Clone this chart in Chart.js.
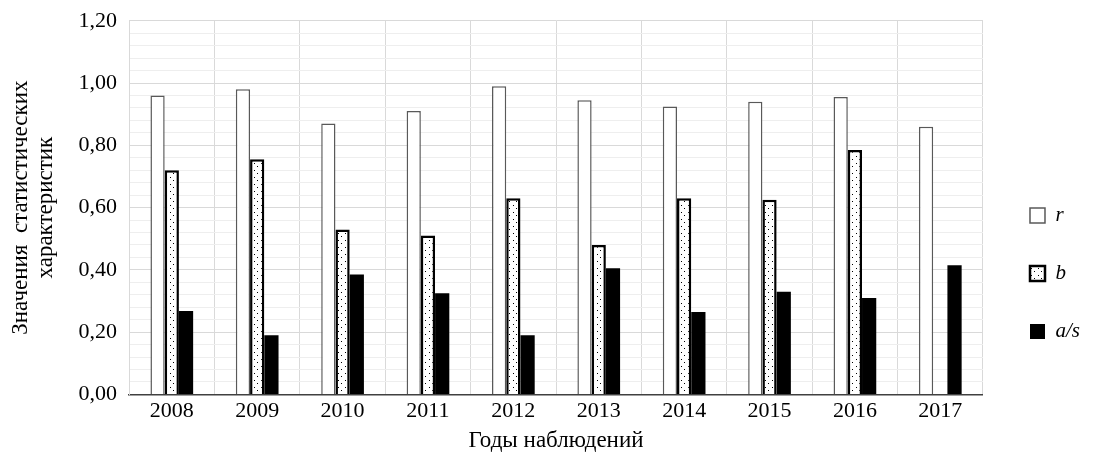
<!DOCTYPE html>
<html lang="ru">
<head>
  <meta charset="UTF-8">
  <title>Статистические характеристики</title>
  <script src="https://cdn.jsdelivr.net/npm/chart.js"></script>
  <style>
    body { margin: 0; background: #fff; }
    .wrap { width: 1096px; height: 453px; }
  </style>
</head>
<body>
  <div class="wrap"><canvas id="chart"></canvas></div>

  <script>
    // данные по годам
    const years = ["2008", "2009", "2010", "2011", "2012", "2013", "2014", "2015", "2016", "2017"];
    const rValues = [0.96, 0.98, 0.87, 0.91, 0.99, 0.945, 0.925, 0.94, 0.955, 0.86];
    const bValues = [0.72, 0.755, 0.53, 0.51, 0.63, 0.48, 0.63, 0.625, 0.785, null];
    const asValues = [0.268, 0.19, 0.385, 0.325, 0.19, 0.405, 0.265, 0.33, 0.31, 0.415];
    const seriesNames = ["r", "b", "a/s"];

    // точечная заливка для b
    const pc = document.createElement("canvas");
    pc.width = 7; pc.height = 7;
    const px = pc.getContext("2d");
    px.fillStyle = "#fff";
    px.fillRect(0, 0, 7, 7);
    px.fillStyle = "#000";
    px.fillRect(2, 2, 1, 1);
    px.fillRect(5, 5, 1, 1);
    const dots = px.createPattern(pc, "repeat");

    const serif = "'Liberation Serif', 'DejaVu Serif', serif";
    const tickFont = { family: serif, size: 22, lineHeight: 0.8 };
    const xTitleFont = { family: serif, size: 23, lineHeight: 1.0 };
    const yTitleFont = { family: serif, size: 23, lineHeight: 1.1 };

    const isMajor = v => Math.round(v * 100) % 20 === 0;

    // сдвиг легенды после раскладки
    const legendShift = {
      id: "legendShift",
      afterLayout(chart) {
        const lg = chart.legend;
        lg.left += 10; lg.right += 10;
        lg.top += 46; lg.bottom += 46;
      }
    };

    new Chart(document.getElementById("chart"), {
      type: "bar",
      data: {
        labels: years,
        datasets: [
          { label: seriesNames[0], data: rValues, backgroundColor: "#fff", borderColor: "#595959", borderWidth: 1.5 },
          { label: seriesNames[1], data: bValues, backgroundColor: dots, borderColor: "#000", borderWidth: 2.5 },
          { label: seriesNames[2], data: asValues, backgroundColor: "#000", borderColor: "#000", borderWidth: 0 }
        ]
      },
      plugins: [legendShift],
      options: {
        responsive: true,
        maintainAspectRatio: false,
        animation: false,
        layout: { padding: { top: 3, right: 16, left: 4, bottom: 1 } },
        datasets: { bar: { categoryPercentage: 0.5, barPercentage: 1 } },
        plugins: {
          tooltip: { enabled: false },
          legend: {
            position: "right",
            labels: {
              font: { family: serif, size: 21, style: "italic" },
              color: "#000",
              boxWidth: 15,
              boxHeight: 15,
              padding: 37
            }
          }
        },
        scales: {
          x: {
            grid: { offset: true, color: "#d9d9d9", drawTicks: false },
            border: { color: "#404040", width: 1.5 },
            ticks: { font: tickFont, color: "#000", padding: 8 },
            title: { display: true, text: "Годы наблюдений", font: xTitleFont, color: "#000", padding: { top: 1, bottom: 0 } }
          },
          y: {
            min: 0,
            max: 1.2,
            grid: {
              color: ctx => isMajor(ctx.tick.value) ? "#d9d9d9" : "#eeeeee",
              drawTicks: false
            },
            border: { color: "#d9d9d9" },
            ticks: {
              stepSize: 0.04,
              autoSkip: false,
              font: tickFont,
              color: "#000",
              padding: 12,
              callback: v => isMajor(v) ? v.toFixed(2).replace(".", ",") : ""
            },
            title: {
              display: true,
              text: ["Значения  статистических", "характеристик"],
              font: yTitleFont,
              color: "#000",
              padding: { top: 4, bottom: 8 }
            }
          }
        }
      }
    });
  </script>
</body>
</html>
